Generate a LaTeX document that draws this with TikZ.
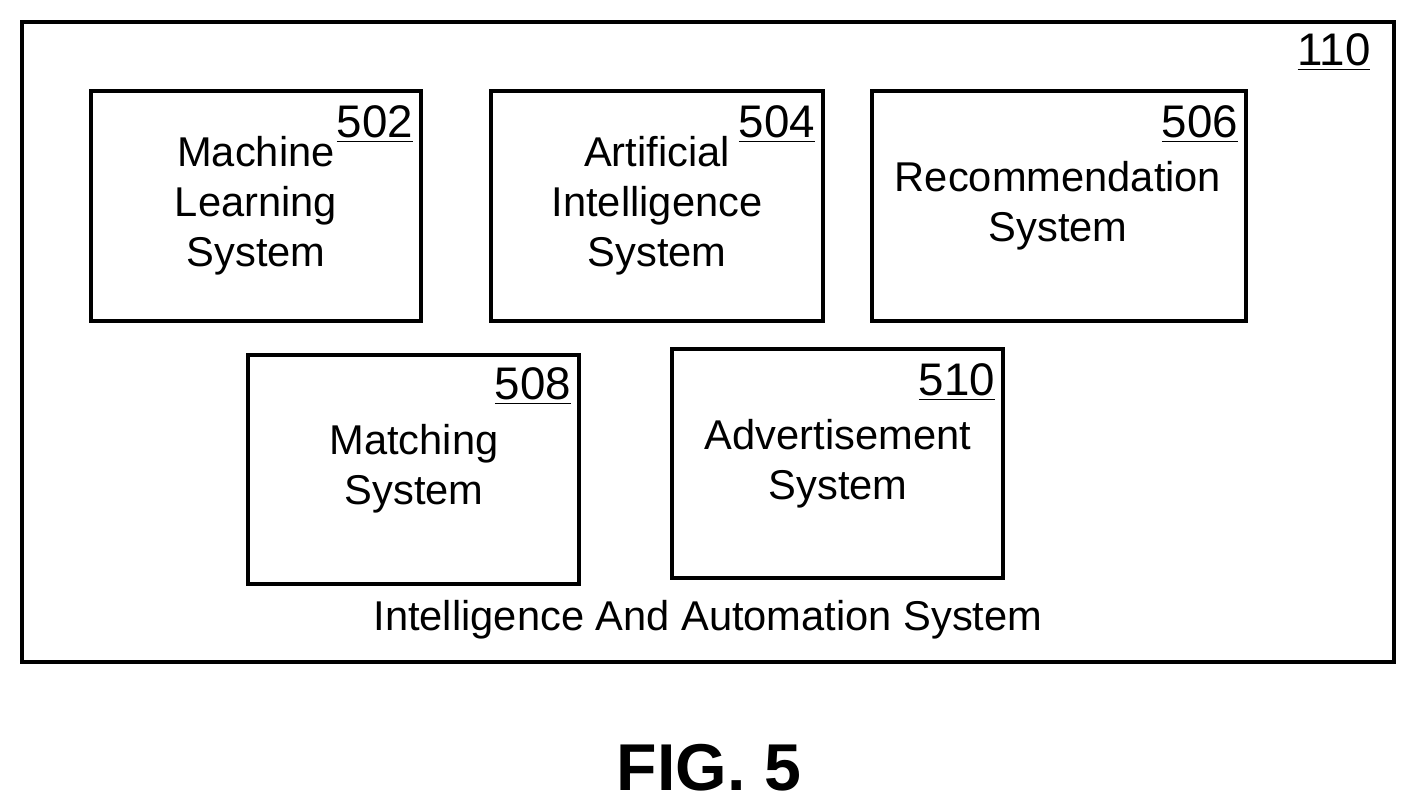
\documentclass[tikz,border=0pt]{standalone}
\usepackage{fontspec}
\setmainfont{Liberation Sans}
\begin{document}
\begin{tikzpicture}[x=0.02cm,y=-0.02cm,
  box/.style={draw,line width=2.2pt},
  txt/.style={align=center,font=\fontsize{23.7}{28.4}\selectfont,inner sep=0pt},
  num/.style={font=\fontsize{26}{28}\selectfont,inner sep=0pt}]
\useasboundingbox (0,0) rectangle (1417,804);
\draw[box] (22,22) rectangle (1394,662);
\node[num] (n110) at (1334,52) {\underline{110}};
\draw[box] (91,91) rectangle (421,321);
\draw[box] (491,91) rectangle (823,321);
\draw[box] (872,91) rectangle (1246,321);
\draw[box] (248,355) rectangle (579,584);
\draw[box] (672,349) rectangle (1003,578);
\node[num] (n502) at (375,124) {\underline{502}};
\node[num] (n504) at (777,124) {\underline{504}};
\node[num] (n506) at (1200,124) {\underline{506}};
\node[num] (n508) at (533,386) {\underline{508}};
\node[num] (n510) at (957,382) {\underline{510}};
\node[txt] (t502) at (256,206) {Machine\\Learning\\System};
\node[txt] (t504) at (657,206) {Artificial\\Intelligence\\System};
\node[txt] (t506) at (1058,206) {Recommendation\\System};
\node[txt] (t508) at (414,469) {Matching\\System};
\node[txt] (t510) at (838,464) {Advertisement\\System};
\node[txt] (t110) at (708,620) {Intelligence And Automation System};
\node[inner sep=0pt,font=\fontsize{37.7}{40}\bfseries\selectfont] (fig) at (709,768) {FIG. 5};
\end{tikzpicture}
\end{document}
